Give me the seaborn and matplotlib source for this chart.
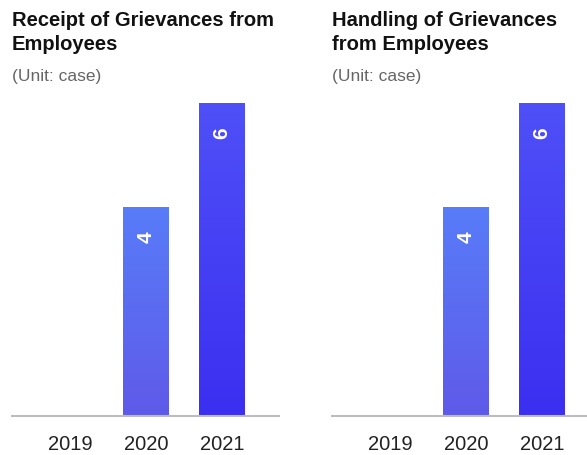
import matplotlib
matplotlib.use("Agg")
import matplotlib.pyplot as plt
import matplotlib.colors as mcolors
import numpy as np
import pandas as pd
import seaborn as sns

years = ["2019", "2020", "2021"]
receipt = [0, 4, 6]
handling = [0, 4, 6]
titles = ["Receipt of Grievances from\nEmployees", "Handling of Grievances\nfrom Employees"]
unit_label = "(Unit: case)"

# gradient colours per bar (top, bottom)
grad_colors = {
    "2019": ("#5a7cf9", "#5f5ae9"),
    "2020": ("#587cf9", "#5f5ae9"),
    "2021": ("#4f50f8", "#3b2ff0"),
}

sns.set_theme(style="white")
plt.rcParams["font.family"] = ["Liberation Sans", "DejaVu Sans"]

W, H = 587, 456
fig = plt.figure(figsize=(W / 100, H / 100), dpi=100)

panels = [
    dict(values=receipt, title=titles[0], left=12, right=279, xlim=(-0.763, 2.75)),
    dict(values=handling, title=titles[1], left=332, right=587, xlim=(-0.763, 2.592)),
]

base_y = 417
top_y = 104

for p in panels:
    ax = fig.add_axes([p["left"] / W, (H - base_y) / H,
                       (p["right"] - p["left"]) / W, (base_y - top_y) / H])
    df = pd.DataFrame({"year": years, "value": p["values"]})
    sns.barplot(data=df, x="year", y="value", ax=ax, width=0.6,
                color="#5a5af0", saturation=1)
    for patch, yr, v in zip(ax.patches, years, p["values"]):
        if v <= 0:
            patch.set_visible(False)
            continue
        x0 = patch.get_x()
        w = patch.get_width()
        h = patch.get_height()
        top_c, bot_c = grad_colors[yr]
        cmap = mcolors.LinearSegmentedColormap.from_list("g", [bot_c, top_c])
        grad = np.linspace(0, 1, 256).reshape(-1, 1)
        im = ax.imshow(grad, cmap=cmap, origin="lower", aspect="auto",
                       extent=(x0, x0 + w, 0, h), zorder=2)
        im.set_clip_path(patch)
        patch.set_facecolor("none")
        patch.set_edgecolor("none")
        ax.annotate(str(v), xy=(x0 + w / 2, h), xytext=(0, -21),
                    textcoords="offset points", ha="center", va="center",
                    rotation=90, color="white", fontsize=15,
                    fontweight="bold", zorder=3)
    ax.set_xlim(*p["xlim"])
    ax.set_ylim(0, 6)
    ax.set_xlabel("")
    ax.set_ylabel("")
    ax.set_yticks([])
    for s in ["top", "right", "left"]:
        ax.spines[s].set_visible(False)
    ax.spines["bottom"].set_color("#bdbdbd")
    ax.spines["bottom"].set_linewidth(1.5)
    ax.tick_params(axis="x", length=0, pad=13, labelsize=14.5, labelcolor="#222222")
    ax.set_facecolor("none")

    fig.text(p["left"] / W, 1 - 11 / H, p["title"], ha="left", va="top",
             fontsize=14.5, fontweight="bold", color="#111111", linespacing=1.3)
    fig.text(p["left"] / W, 1 - 77 / H, unit_label, ha="left", va="center",
             fontsize=12.5, color="#666666")

fig.savefig("out.png", dpi=100)
